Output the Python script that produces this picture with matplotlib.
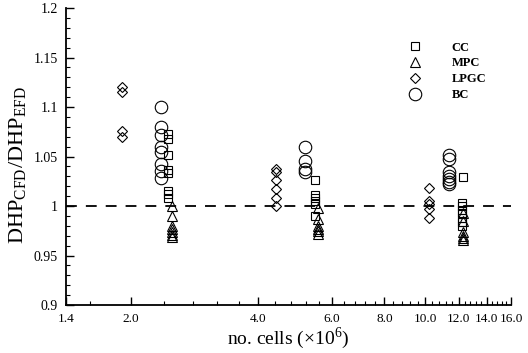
import numpy as np
import matplotlib
matplotlib.use('Agg')
import matplotlib.pyplot as plt
from matplotlib.ticker import FixedLocator, FuncFormatter

plt.rcParams['font.family'] = ['Liberation Serif', 'DejaVu Serif']
plt.rcParams['mathtext.fontset'] = 'stix'

# --- data (x in millions of cells) ---
cc_x = [2.45] * 8 + [5.47] * 6 + [12.3] + [12.2] * 7
cc_y = [1.073, 1.068, 1.052, 1.036, 1.033, 1.015, 1.012, 1.008,
        1.026, 1.011, 1.008, 1.005, 1.002, 0.990,
        1.029,
        1.003, 1.000, 0.996, 0.993, 0.988, 0.984, 0.980]

mpc_x = [2.5] * 7 + [5.55] * 6 + [12.3] * 6
mpc_y = [1.000, 0.990, 0.980, 0.977, 0.974, 0.971, 0.969,
         0.998, 0.987, 0.980, 0.977, 0.975, 0.972,
         0.993, 0.985, 0.974, 0.970, 0.968, 0.966]

lpgc_x = [1.9] * 4 + [4.41] * 6 + [10.2] * 5
lpgc_y = [1.120, 1.115, 1.076, 1.070,
          1.037, 1.034, 1.026, 1.017, 1.008, 1.000,
          1.018, 1.005, 1.002, 0.997, 0.988]

bc_x = [2.35] * 8 + [5.18] * 4 + [11.4] * 7
bc_y = [1.100, 1.080, 1.072, 1.060, 1.055, 1.042, 1.035, 1.028,
        1.060, 1.046, 1.037, 1.034,
        1.052, 1.048, 1.034, 1.030, 1.027, 1.024, 1.022]

x_major = [1.4, 2.0, 4.0, 6.0, 8.0, 10.0, 12.0, 14.0, 16.0]
y_major = [0.9, 0.95, 1.0, 1.05, 1.1, 1.15, 1.2]

fig = plt.figure(figsize=(5.28, 3.53), dpi=100)
ax = fig.add_axes([0.125, 0.136, 0.843, 0.841])

mk = dict(linestyle='none', mfc='none', mec='black', mew=0.8)
ax.plot(cc_x, cc_y, marker='s', ms=5.8, label='CC', **mk)
ax.plot(mpc_x, mpc_y, marker='^', ms=6.8, label='MPC', **mk)
ax.plot(lpgc_x, lpgc_y, marker='D', ms=5.0, label='LPGC', **mk)
ax.plot(bc_x, bc_y, marker='o', ms=9.0, label='BC', **mk)

ax.axhline(1.0, color='black', lw=1.3, ls=(0, (6, 5)))

ax.set_xscale('log')
ax.set_xlim(1.4, 16.0)
ax.set_ylim(0.9, 1.2)

ax.xaxis.set_major_locator(FixedLocator(x_major))
minor = [v for v in np.arange(1.6, 16.0, 0.4) if min(abs(v - m) for m in x_major) > 1e-6]
ax.xaxis.set_minor_locator(FixedLocator(minor))
ax.xaxis.set_major_formatter(FuncFormatter(lambda v, p: '%.1f' % v))
ax.xaxis.set_minor_formatter(FuncFormatter(lambda v, p: ''))

ax.yaxis.set_major_locator(FixedLocator(y_major))
ax.yaxis.set_minor_locator(FixedLocator(np.arange(0.91, 1.2, 0.01)))
ax.yaxis.set_major_formatter(FuncFormatter(lambda v, p: '%g' % round(v, 3)))

ax.tick_params(which='major', direction='in', length=6, width=1.0, labelsize=10, pad=6)
ax.tick_params(axis='x', which='major', labelsize=9.5)
ax.tick_params(which='minor', direction='in', length=3, width=0.8)

for s in ['top', 'right']:
    ax.spines[s].set_visible(False)
for s in ['left', 'bottom']:
    ax.spines[s].set_linewidth(1.3)

ax.set_ylabel(r'DHP$_{\mathregular{CFD}}$/DHP$_{\mathregular{EFD}}$', fontsize=16, labelpad=6)
ax.yaxis.set_label_coords(-0.085, 0.47)
ax.set_xlabel(r'no. cells ($\mathregular{\times}$10$^{\mathregular{6}}$)', fontsize=14, labelpad=0)

leg = ax.legend(loc='upper left', bbox_to_anchor=(0.745, 0.925), frameon=False,
                prop={'weight': 'bold', 'size': 9}, handlelength=1.0,
                handletextpad=2.4, labelspacing=0.3, numpoints=1)

fig.savefig('out.png', dpi=100)
